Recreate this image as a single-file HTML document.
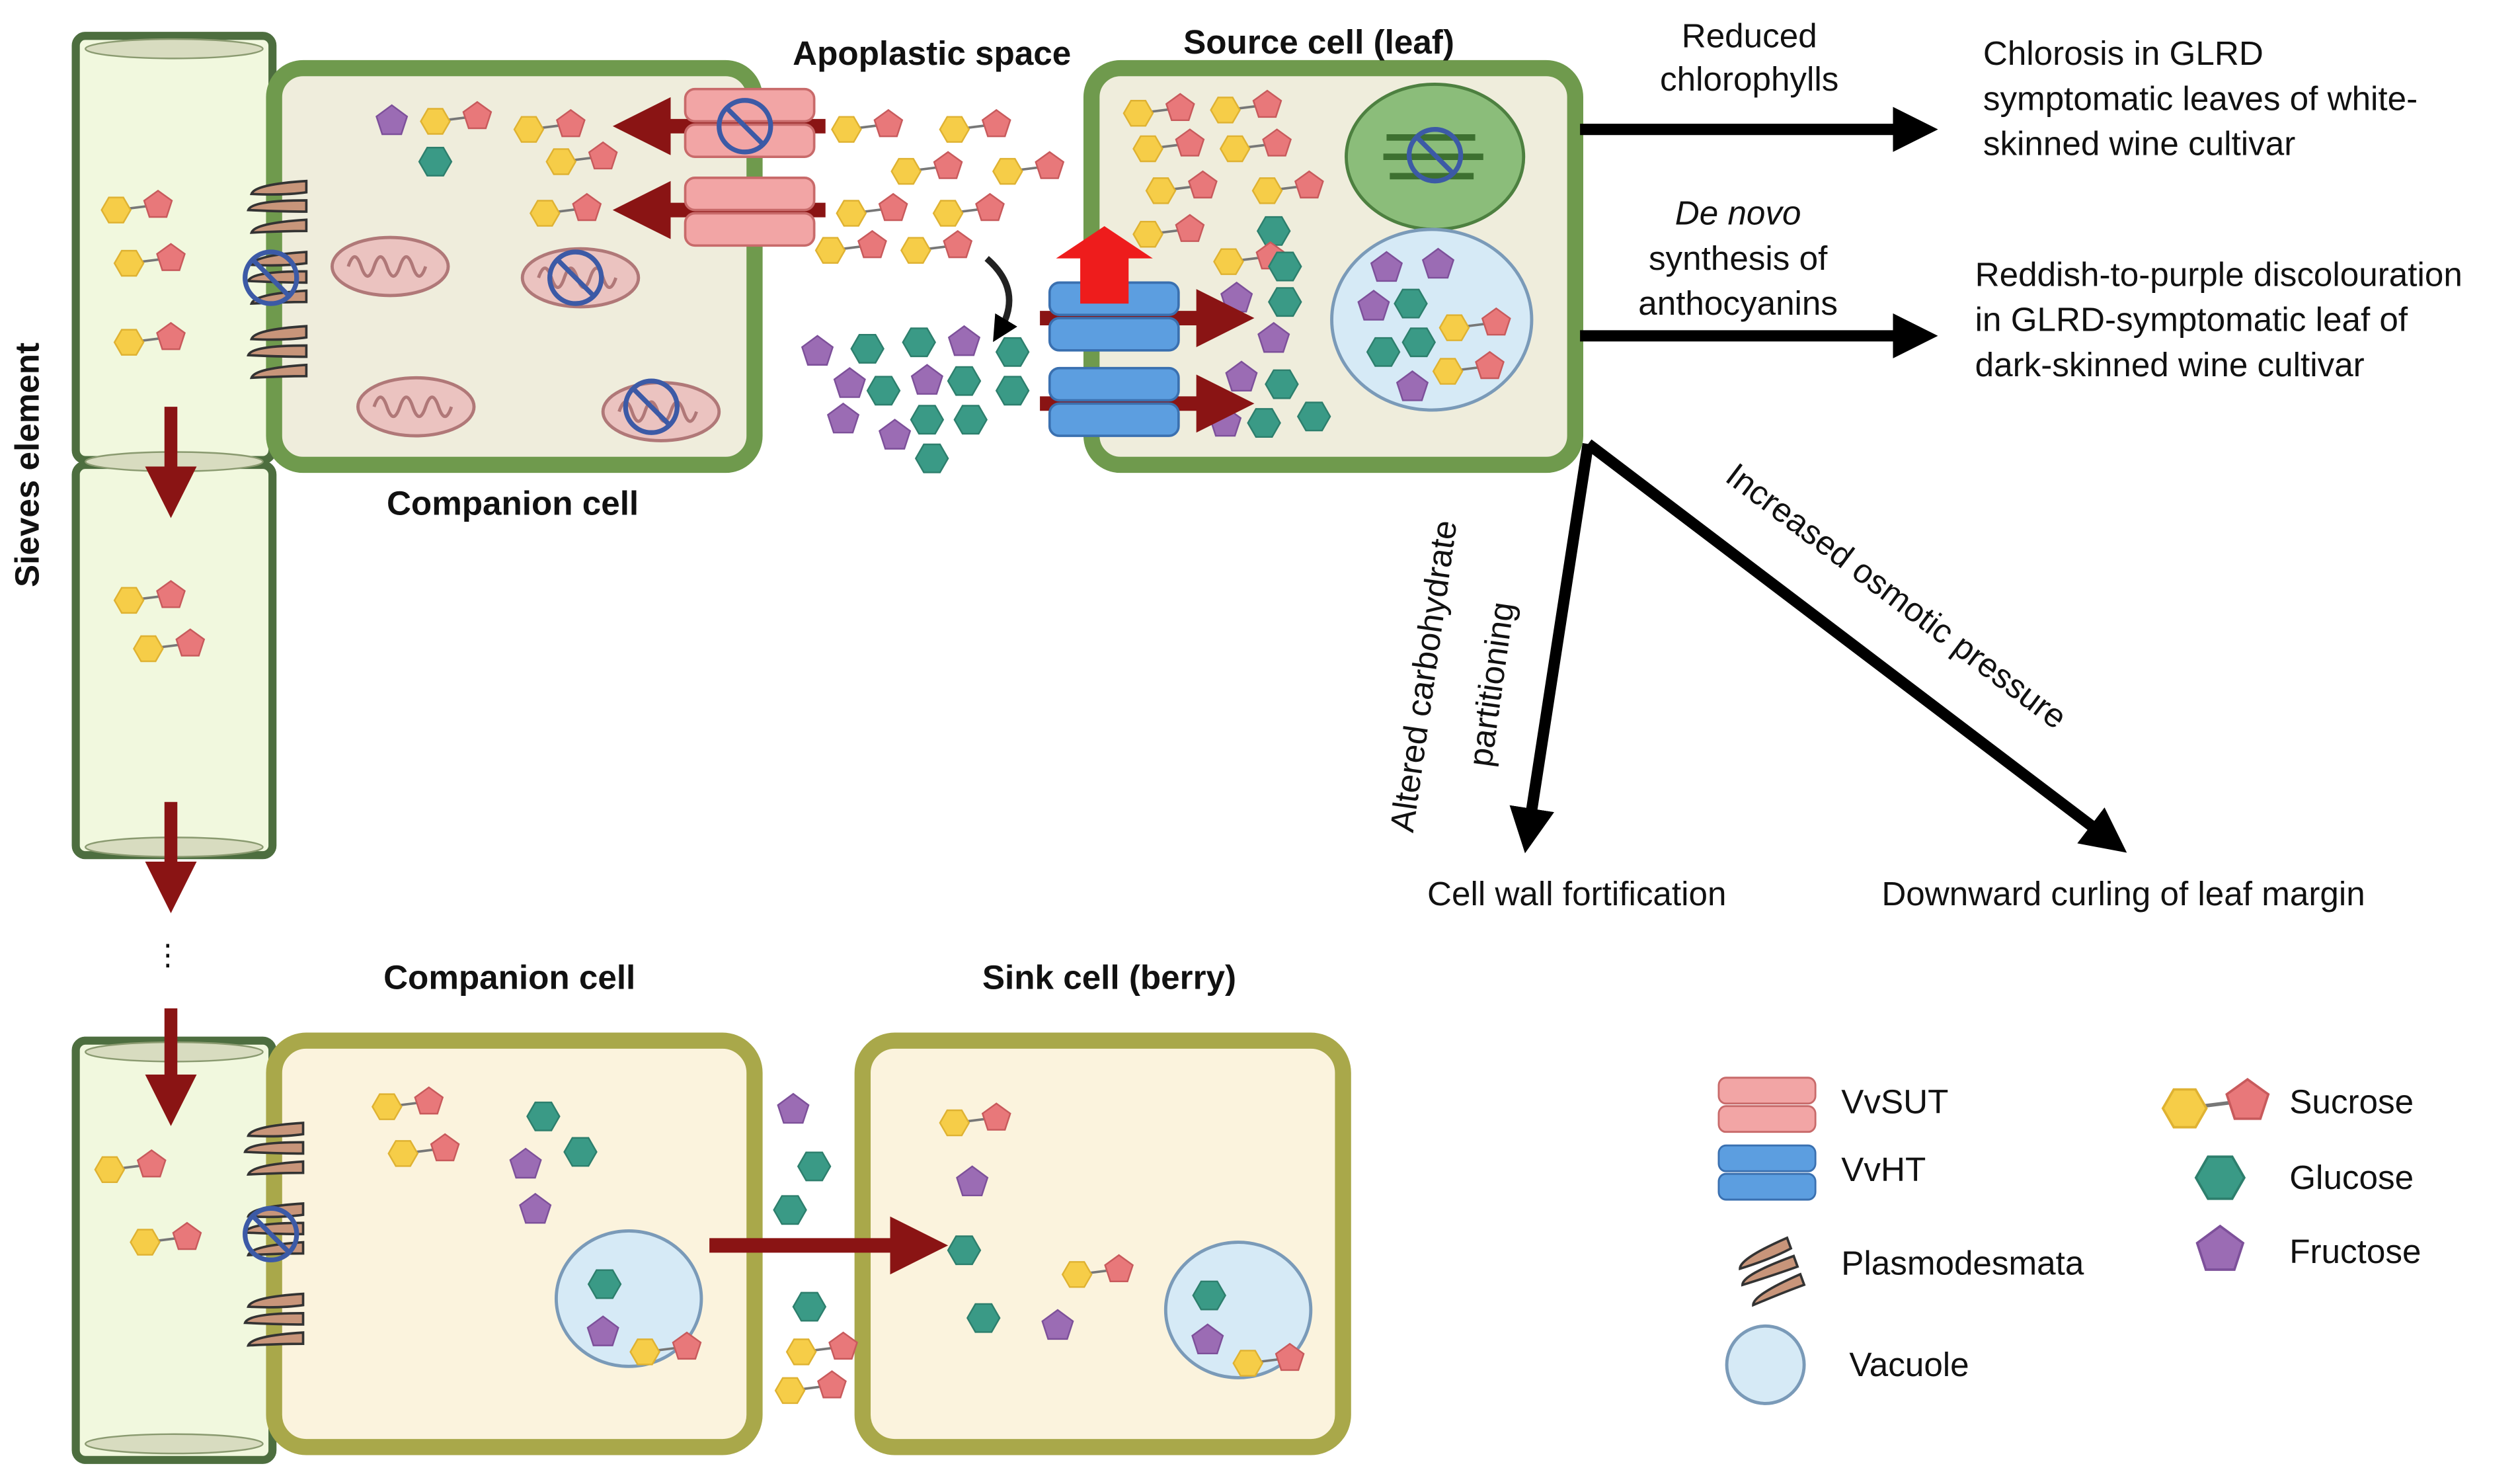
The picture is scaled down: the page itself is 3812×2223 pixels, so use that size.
<!DOCTYPE html>
<html><head><meta charset="utf-8"><style>
html,body{margin:0;padding:0;background:#fff;}
svg{display:block;}
text{font-family:"Liberation Sans",sans-serif;fill:#111;}
</style></head><body>
<svg width="3812" height="2223" viewBox="0 0 1563 911" xmlns="http://www.w3.org/2000/svg">
<defs>
<g id="hy"><polygon points="9,0 4.5,7.8 -4.5,7.8 -9,0 -4.5,-7.8 4.5,-7.8" fill="#f6cd48" stroke="#dfb232" stroke-width="1"/></g>
<g id="pk"><polygon points="0,-9 8.6,-2.8 5.3,7.3 -5.3,7.3 -8.6,-2.8" fill="#e8787a" stroke="#c85a5c" stroke-width="1"/></g>
<g id="suc"><line x1="0" y1="0" x2="24" y2="-3" stroke="#777" stroke-width="1.5"/><use href="#hy"/><use href="#pk" x="26" y="-3"/></g>
<g id="glu"><polygon points="10,0 5,8.7 -5,8.7 -10,0 -5,-8.7 5,-8.7" fill="#3a9a86" stroke="#2d7f6d" stroke-width="1"/></g>
<g id="fru"><polygon points="0,-10 9.5,-3 5.9,8 -5.9,8 -9.5,-3" fill="#9b6cb4" stroke="#7d509a" stroke-width="1"/></g>
<g id="no"><circle r="16" fill="none" stroke="#3c5aa6" stroke-width="3"/><line x1="-11" y1="-11" x2="11" y2="11" stroke="#3c5aa6" stroke-width="3"/></g>
<g id="sut"><rect x="0" y="0" width="80" height="20" rx="6" fill="#f2a5a5" stroke="#c86a6a" stroke-width="1.5"/><rect x="0" y="22" width="80" height="20" rx="6" fill="#f2a5a5" stroke="#c86a6a" stroke-width="1.5"/></g>
<g id="ht"><rect x="0" y="0" width="80" height="20" rx="6" fill="#5c9ee0" stroke="#3a70b0" stroke-width="1.5"/><rect x="0" y="22" width="80" height="20" rx="6" fill="#5c9ee0" stroke="#3a70b0" stroke-width="1.5"/></g>
<g id="pd"><path d="M2,-16 Q-30,-14 -32,-8 Q-12,-7 2,-9Z M2,-4 Q-32,-4 -34,2 Q-12,3 2,3Z M2,8 Q-30,10 -32,16 Q-12,15 2,15Z" fill="#c8957a" stroke="#333" stroke-width="1.5"/></g>
<g id="mito"><ellipse rx="36" ry="18" fill="#ebc3c0" stroke="#b07878" stroke-width="2"/><path d="M-26,0 q4,-12 8,0 q4,12 8,0 q4,-12 8,0 q4,12 8,0 q4,-12 8,0 q4,12 8,0" fill="none" stroke="#b07878" stroke-width="2"/></g>
<marker id="dr" viewBox="0 0 10 10" refX="5" refY="5" markerWidth="4" markerHeight="4" orient="auto"><path d="M0,0 L10,5 L0,10z" fill="#8a1414"/></marker>
<marker id="bk" viewBox="0 0 10 10" refX="5" refY="5" markerWidth="4" markerHeight="4" orient="auto"><path d="M0,0 L10,5 L0,10z" fill="#000"/></marker>
</defs>

<rect x="47" y="22" width="122" height="263" rx="6" fill="#f1f8de" stroke="#4d6e3f" stroke-width="5"/>
<rect x="47" y="288" width="122" height="242" rx="6" fill="#f1f8de" stroke="#4d6e3f" stroke-width="5"/>
<ellipse cx="108" cy="30" rx="55" ry="6" fill="#d8dcc0" stroke="#8a9a70"/>
<ellipse cx="108" cy="286" rx="55" ry="6" fill="#d8dcc0" stroke="#8a9a70"/>
<ellipse cx="108" cy="525" rx="55" ry="6" fill="#d8dcc0" stroke="#8a9a70"/>
<text transform="translate(24,288) rotate(-90)" text-anchor="middle" font-size="21" font-weight="bold">Sieves element</text>
<use href="#suc" x="72" y="130"/><use href="#suc" x="80" y="163"/><use href="#suc" x="80" y="212"/>
<use href="#suc" x="80" y="372"/><use href="#suc" x="92" y="402"/>
<line x1="106" y1="252" x2="106" y2="305" stroke="#8a1414" stroke-width="8" marker-end="url(#dr)"/>
<line x1="106" y1="497" x2="106" y2="550" stroke="#8a1414" stroke-width="8" marker-end="url(#dr)"/>
<text x="104" y="598" font-size="18" text-anchor="middle">⋮</text>

<rect x="170" y="42" width="298" height="246" rx="18" fill="#efeddc" stroke="#6f9a4d" stroke-width="10"/>
<use href="#pd" x="188" y="128"/><use href="#pd" x="188" y="172"/><use href="#pd" x="188" y="218"/>
<use href="#no" x="168" y="172"/>
<use href="#mito" x="242" y="165"/><use href="#mito" x="360" y="172"/><use href="#mito" x="258" y="252"/><use href="#mito" x="410" y="255"/>
<use href="#no" x="357" y="172"/><use href="#no" x="404" y="252"/>
<use href="#fru" x="243" y="75"/><use href="#suc" x="270" y="75"/><use href="#glu" x="270" y="100"/><use href="#suc" x="328" y="80"/><use href="#suc" x="348" y="100"/><use href="#suc" x="338" y="132"/>
<text x="318" y="319" font-size="21" font-weight="bold" text-anchor="middle">Companion cell</text>

<text x="578" y="40" font-size="21" font-weight="bold" text-anchor="middle">Apoplastic space</text>
<line x1="512" y1="78" x2="398" y2="78" stroke="#8a1414" stroke-width="9" marker-end="url(#dr)"/>
<line x1="512" y1="130" x2="398" y2="130" stroke="#8a1414" stroke-width="9" marker-end="url(#dr)"/>
<use href="#sut" x="425" y="55"/><use href="#sut" x="425" y="110"/>
<use href="#no" x="462" y="78"/>
<use href="#suc" x="525" y="80"/><use href="#suc" x="592" y="80"/><use href="#suc" x="562" y="106"/><use href="#suc" x="625" y="106"/><use href="#suc" x="528" y="132"/><use href="#suc" x="588" y="132"/><use href="#suc" x="515" y="155"/><use href="#suc" x="568" y="155"/>
<path d="M612,160 Q635,180 620,205" fill="none" stroke="#222" stroke-width="4" marker-end="url(#bk)"/>
<use href="#fru" x="507" y="218"/><use href="#glu" x="538" y="216"/><use href="#glu" x="570" y="212"/><use href="#fru" x="598" y="212"/><use href="#glu" x="628" y="218"/>
<use href="#fru" x="527" y="238"/><use href="#glu" x="548" y="242"/><use href="#fru" x="575" y="236"/><use href="#glu" x="598" y="236"/><use href="#glu" x="628" y="242"/>
<use href="#fru" x="523" y="260"/><use href="#fru" x="555" y="270"/><use href="#glu" x="575" y="260"/><use href="#glu" x="602" y="260"/><use href="#glu" x="578" y="284"/>

<rect x="677" y="42" width="300" height="246" rx="18" fill="#efeddc" stroke="#6f9a4d" stroke-width="10"/>
<text x="818" y="33" font-size="21" font-weight="bold" text-anchor="middle">Source cell (leaf)</text>
<ellipse cx="890" cy="97" rx="55" ry="45" fill="#8bbd7a" stroke="#4d8040" stroke-width="2"/>
<path d="M860,85 h55 M858,97 h62 M862,109 h52" stroke="#3d7030" stroke-width="4"/>
<use href="#no" x="890" y="96"/>
<ellipse cx="888" cy="198" rx="62" ry="56" fill="#d6eaf6" stroke="#7a9ab8" stroke-width="2"/>
<use href="#fru" x="860" y="166"/><use href="#fru" x="892" y="164"/><use href="#fru" x="852" y="190"/><use href="#glu" x="875" y="188"/><use href="#glu" x="858" y="218"/><use href="#glu" x="880" y="212"/><use href="#suc" x="902" y="203"/><use href="#fru" x="876" y="240"/><use href="#suc" x="898" y="230"/>
<use href="#suc" x="706" y="70"/><use href="#suc" x="760" y="68"/><use href="#suc" x="712" y="92"/><use href="#suc" x="766" y="92"/><use href="#suc" x="720" y="118"/><use href="#suc" x="786" y="118"/><use href="#suc" x="712" y="145"/><use href="#glu" x="790" y="143"/><use href="#suc" x="762" y="162"/><use href="#glu" x="797" y="165"/>
<use href="#fru" x="767" y="185"/><use href="#glu" x="797" y="187"/><use href="#fru" x="790" y="210"/><use href="#fru" x="770" y="234"/><use href="#glu" x="795" y="238"/><use href="#fru" x="760" y="262"/><use href="#glu" x="784" y="262"/><use href="#glu" x="815" y="258"/>
<line x1="645" y1="197" x2="760" y2="197" stroke="#8a1414" stroke-width="9" marker-end="url(#dr)"/>
<line x1="645" y1="250" x2="760" y2="250" stroke="#8a1414" stroke-width="9" marker-end="url(#dr)"/>
<use href="#ht" x="651" y="175"/><use href="#ht" x="651" y="228"/>
<polygon points="685,140 715,160 700,160 700,188 670,188 670,160 655,160" fill="#ee1c1c"/>

<line x1="980" y1="80" x2="1188" y2="80" stroke="#000" stroke-width="7" marker-end="url(#bk)"/>
<line x1="980" y1="208" x2="1188" y2="208" stroke="#000" stroke-width="7" marker-end="url(#bk)"/>
<line x1="985" y1="275" x2="948" y2="515" stroke="#000" stroke-width="7" marker-end="url(#bk)"/>
<line x1="985" y1="275" x2="1308" y2="520" stroke="#000" stroke-width="7" marker-end="url(#bk)"/>
<text x="1085" y="29" font-size="21" text-anchor="middle">Reduced</text>
<text x="1085" y="56" font-size="21" text-anchor="middle">chlorophylls</text>
<text x="1078" y="139" font-size="21" text-anchor="middle" font-style="italic">De novo</text>
<text x="1078" y="167" font-size="21" text-anchor="middle">synthesis of</text>
<text x="1078" y="195" font-size="21" text-anchor="middle">anthocyanins</text>
<text x="1230" y="40" font-size="21">Chlorosis in GLRD</text>
<text x="1230" y="68" font-size="21">symptomatic leaves of white-</text>
<text x="1230" y="96" font-size="21">skinned wine cultivar</text>
<text x="1225" y="177" font-size="21">Reddish-to-purple discolouration</text>
<text x="1225" y="205" font-size="21">in GLRD-symptomatic leaf of</text>
<text x="1225" y="233" font-size="21">dark-skinned wine cultivar</text>
<text transform="translate(890,420) rotate(-82)" font-size="21" text-anchor="middle">Altered carbohydrate</text>
<text transform="translate(932,425) rotate(-82)" font-size="21" text-anchor="middle">partitioning</text>
<text transform="translate(1172,375) rotate(37)" font-size="21" text-anchor="middle">Increased osmotic pressure</text>
<text x="978" y="561" font-size="21" text-anchor="middle">Cell wall fortification</text>
<text x="1317" y="561" font-size="21" text-anchor="middle">Downward curling of leaf margin</text>

<rect x="47" y="645" width="122" height="260" rx="6" fill="#f1f8de" stroke="#4d6e3f" stroke-width="5"/>
<ellipse cx="108" cy="652" rx="55" ry="6" fill="#d8dcc0" stroke="#8a9a70"/>
<ellipse cx="108" cy="895" rx="55" ry="6" fill="#d8dcc0" stroke="#8a9a70"/>
<line x1="106" y1="625" x2="106" y2="682" stroke="#8a1414" stroke-width="8" marker-end="url(#dr)"/>
<use href="#suc" x="68" y="725"/><use href="#suc" x="90" y="770"/>
<rect x="170" y="645" width="298" height="252" rx="20" fill="#fbf3dd" stroke="#a9a84a" stroke-width="10"/>
<rect x="535" y="645" width="298" height="252" rx="20" fill="#fbf3dd" stroke="#a9a84a" stroke-width="10"/>
<text x="316" y="613" font-size="21" font-weight="bold" text-anchor="middle">Companion cell</text>
<text x="688" y="613" font-size="21" font-weight="bold" text-anchor="middle">Sink cell (berry)</text>
<use href="#pd" x="186" y="712"/><use href="#pd" x="186" y="762"/><use href="#pd" x="186" y="818"/>
<use href="#no" x="168" y="765"/>
<use href="#suc" x="240" y="686"/><use href="#suc" x="250" y="715"/><use href="#glu" x="337" y="692"/><use href="#glu" x="360" y="714"/><use href="#fru" x="326" y="722"/><use href="#fru" x="332" y="750"/>
<ellipse cx="390" cy="805" rx="45" ry="42" fill="#d6eaf6" stroke="#7a9ab8" stroke-width="2"/>
<use href="#glu" x="375" y="796"/><use href="#fru" x="374" y="826"/><use href="#suc" x="400" y="838"/>
<line x1="440" y1="772" x2="570" y2="772" stroke="#8a1414" stroke-width="9" marker-end="url(#dr)"/>
<use href="#fru" x="492" y="688"/><use href="#glu" x="505" y="723"/><use href="#glu" x="490" y="750"/><use href="#glu" x="502" y="810"/><use href="#suc" x="490" y="862"/><use href="#suc" x="497" y="838"/>
<use href="#suc" x="592" y="696"/><use href="#fru" x="603" y="733"/><use href="#glu" x="598" y="775"/><use href="#glu" x="610" y="817"/><use href="#fru" x="656" y="822"/><use href="#suc" x="668" y="790"/>
<ellipse cx="768" cy="812" rx="45" ry="42" fill="#d6eaf6" stroke="#7a9ab8" stroke-width="2"/>
<use href="#glu" x="750" y="803"/><use href="#fru" x="749" y="831"/><use href="#suc" x="774" y="845"/>

<g transform="translate(1066,668) scale(0.75,0.8)"><use href="#sut"/></g>
<text x="1142" y="690" font-size="21">VvSUT</text>
<g transform="translate(1066,710) scale(0.75,0.8)"><use href="#ht"/></g>
<text x="1142" y="732" font-size="21">VvHT</text>
<use href="#pd" x="1112" y="783" transform="rotate(-20 1112 783)"/>
<text x="1142" y="790" font-size="21">Plasmodesmata</text>
<ellipse cx="1095" cy="846" rx="24" ry="24" fill="#d6eaf6" stroke="#7a9ab8" stroke-width="2"/>
<text x="1147" y="853" font-size="21">Vacuole</text>
<g transform="translate(1355,687) scale(1.5)"><use href="#suc"/></g>
<text x="1420" y="690" font-size="21">Sucrose</text>
<g transform="translate(1377,730) scale(1.5)"><use href="#glu"/></g>
<text x="1420" y="737" font-size="21">Glucose</text>
<g transform="translate(1377,775) scale(1.5)"><use href="#fru"/></g>
<text x="1420" y="783" font-size="21">Fructose</text>
</svg>
</body></html>
